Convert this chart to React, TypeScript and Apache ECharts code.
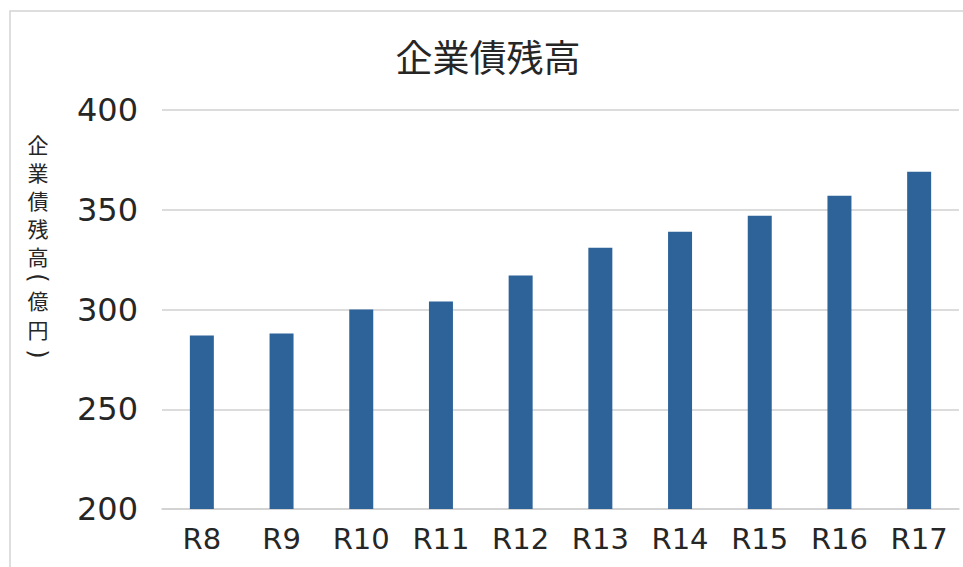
import React, { useEffect, useRef } from "react";
import * as echarts from "echarts";

const TITLE = "企業債残高";
const Y_NAME_CHARS = ["企", "業", "債", "残", "高", "(", "億", "円", ")"];
const CATEGORIES = ["R8", "R9", "R10", "R11", "R12", "R13", "R14", "R15", "R16", "R17"];
const VALUES = [287, 288, 300, 304, 317, 331, 339, 347, 357, 369];
const Y_MIN = 200;
const Y_MAX = 400;
const Y_INTERVAL = 50;

// vertical positions (centres) of the stacked y-axis name glyphs
const Y_NAME_POS = [144, 172, 200, 228, 256, 278, 300, 329, 354];

export default function App() {
  const ref = useRef<HTMLDivElement>(null);
  useEffect(() => {
    document.body.style.margin = "0";
    const chart = echarts.init(ref.current!, undefined, { renderer: "svg" });
    const nameEls = Y_NAME_CHARS.map((ch, i) => {
      const isParen = ch === "(" || ch === ")";
      return {
        type: "text",
        x: 38,
        y: Y_NAME_POS[i],
        rotation: isParen ? -Math.PI / 2 : 0,
        style: {
          text: ch,
          fill: "#262626",
          fontSize: isParen ? 24 : 21,
          fontFamily: isParen ? "DejaVu Sans" : "Noto Sans CJK JP",
          align: "center",
          verticalAlign: "middle",
        },
      };
    });
    chart.setOption({
      animation: false,
      backgroundColor: "#ffffff",
      grid: { left: 162, right: 4, top: 110, bottom: 58, containLabel: false },
      graphic: [
        {
          type: "rect",
          shape: { x: 10, y: 11, width: 1000, height: 600 },
          style: { fill: "none", stroke: "#d4d4d4", lineWidth: 1.5 },
          silent: true,
          z: -1,
        },
        {
          type: "text",
          x: 488,
          y: 56,
          style: {
            text: TITLE,
            fill: "#262626",
            fontSize: 37,
            fontFamily: "Noto Sans CJK JP",
            align: "center",
            verticalAlign: "middle",
          },
        },
        ...nameEls,
      ],
      xAxis: {
        type: "category",
        data: CATEGORIES,
        axisTick: { show: false },
        axisLine: { show: true, lineStyle: { color: "#d0d0d0", width: 1.5 } },
        axisLabel: {
          color: "#262626",
          fontSize: 29,
          fontFamily: "DejaVu Sans",
          margin: 15,
        },
      },
      yAxis: {
        type: "value",
        min: Y_MIN,
        max: Y_MAX,
        interval: Y_INTERVAL,
        axisLine: { show: false },
        axisTick: { show: false },
        splitLine: { lineStyle: { color: "#d0d0d0", width: 1.5 } },
        axisLabel: {
          color: "#262626",
          fontSize: 32,
          fontFamily: "DejaVu Sans",
          margin: 24,
        },
      },
      series: [
        {
          type: "bar",
          data: VALUES,
          barWidth: 24,
          itemStyle: { color: "#2e6399" },
        },
      ],
    });
    return () => chart.dispose();
  }, []);
  return <div ref={ref} style={{ width: 963, height: 567 }} />;
}
